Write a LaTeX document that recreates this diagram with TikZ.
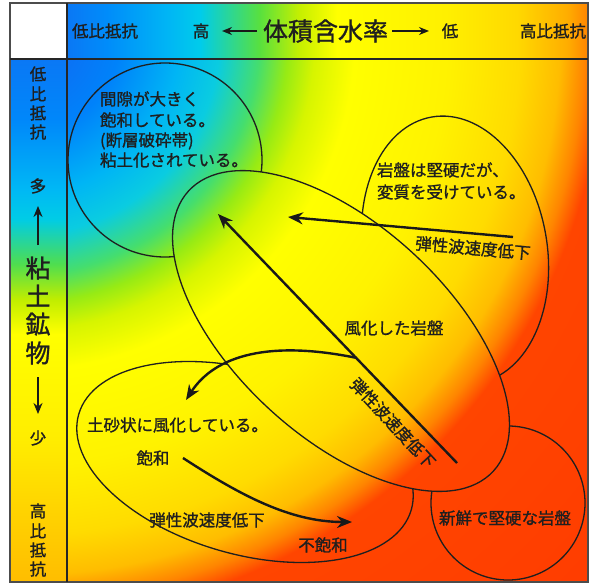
\documentclass[tikz,border=0pt]{standalone}
\usepackage{fontspec}
\setmainfont[FakeBold=1.2]{Noto Sans CJK JP}
\usetikzlibrary{arrows.meta}
\pgfdeclareradialshading{mainshade}{\pgfpoint{0bp}{0bp}}{%
rgb(0bp)=(0.04,0.45,0.96);
rgb(55bp)=(0.04,0.45,0.96);
rgb(100bp)=(0,0.51,0.98);
rgb(160bp)=(0,0.71,0.96);
rgb(200bp)=(0.04,0.80,0.88);
rgb(240bp)=(0.27,0.87,0.43);
rgb(268bp)=(0.59,0.92,0.08);
rgb(295bp)=(0.84,0.96,0);
rgb(335bp)=(1,1,0);
rgb(430bp)=(1,0.95,0);
rgb(500bp)=(1,0.86,0);
rgb(540bp)=(1,0.74,0);
rgb(565bp)=(1,0.52,0);
rgb(585bp)=(1,0.27,0);
rgb(900bp)=(1,0.22,0)}
\pgfdeclarehorizontalshading{hdrshade}{56bp}{%
rgb(0bp)=(0.04,0.47,0.96);
rgb(40bp)=(0,0.55,0.98);
rgb(100bp)=(0,0.71,0.96);
rgb(133bp)=(0,0.80,0.92);
rgb(193bp)=(0.35,0.88,0.24);
rgb(233bp)=(0.78,0.94,0);
rgb(270bp)=(1,1,0);
rgb(380bp)=(1,0.94,0);
rgb(450bp)=(1,0.85,0);
rgb(500bp)=(1,0.68,0);
rgb(521bp)=(1,0.52,0)}
\pgfdeclareverticalshading{colshade}{57bp}{%
rgb(0bp)=(1,0.74,0);
rgb(73bp)=(1,0.83,0);
rgb(143bp)=(1,0.93,0);
rgb(248bp)=(1,1,0);
rgb(283bp)=(0.75,0.93,0);
rgb(318bp)=(0.31,0.87,0.31);
rgb(363bp)=(0,0.80,0.90);
rgb(393bp)=(0,0.72,0.96);
rgb(463bp)=(0,0.53,0.98);
rgb(523bp)=(0.04,0.47,0.96)}
\begin{document}
\begin{tikzpicture}[x=1bp,y=-1bp,
  bg/.style={inner sep=0,outer sep=0},
  outline/.style={draw=black!88,line width=1.3bp},
  bigarrow/.style={draw=black!90,line width=2.4bp,-{Stealth[length=15bp,width=12bp]}},
  hdrarrow/.style={draw=black!90,line width=1.8bp,-{Stealth[length=10bp,width=8bp]}},
  colarrow/.style={draw=black!90,line width=2.2bp,-{Stealth[length=11bp,width=9bp]}},
  jp/.style={inner sep=0,outer sep=0,text height=14.5bp,text depth=2bp,
    font=\fontsize{16.5bp}{20bp}\selectfont,text=black!88},
  jpbig/.style={inner sep=0,outer sep=0,text height=22bp,text depth=3bp,
    font=\fontsize{25bp}{30bp}\selectfont,text=black!88}]
\useasboundingbox (0,0) rectangle (591,585);
\fill[white] (0,0) rectangle (591,585);
% backgrounds
\node[bg,anchor=north west] (hdrbg) at (67,3) {\pgfuseshading{hdrshade}};
\node[bg,anchor=north west] (colbg) at (10,59) {\pgfuseshading{colshade}};
\begin{scope}
  \clip (67,59) rectangle (588,582);
  \node[bg] (mainbg) at (20,35) {\pgfuseshading{mainshade}};
  % shapes below the big ellipse
  \draw[outline] (165,160) circle[radius=97];
  \draw[outline,rotate around={-80:(455,250)}] (455,250) ellipse[x radius=135,y radius=92];
  \draw[outline,rotate around={-16:(245,462)}] (245,462) ellipse[x radius=173,y radius=92];
  \draw[outline] (508,503) circle[radius=77];
  % big ellipse on top
  \begin{scope}
    \clip[rotate around={-42.6:(341,331)}] (341,331) ellipse[x radius=207,y radius=106];
    \node[bg] (mainbg2) at (20,35) {\pgfuseshading{mainshade}};
  \end{scope}
  \draw[outline,rotate around={-42.6:(341,331)}] (341,331) ellipse[x radius=207,y radius=106];
\end{scope}
% frame
\draw[black!70,line width=1.5bp] (10,3) rectangle (588,582);
\draw[black!85,line width=1.3bp] (67,3) -- (67,582) (10,59) -- (588,59);
% arrows in the main area
\coordinate (a1s) at (457,463);
\coordinate (a1e) at (218,214);
\coordinate (a2s) at (513,237);
\coordinate (a2e) at (288,217);
\coordinate (a3s) at (357,358);
\coordinate (a3e) at (186,400);
\coordinate (a4s) at (183,458);
\coordinate (a4e) at (352,522);
\draw[bigarrow] (a1s) -- (a1e);
\draw[bigarrow] (a2s) -- (a2e);
\draw[bigarrow] (a3s) .. controls (270,340) and (215,355) .. (a3e);
\draw[bigarrow] (a4s) .. controls (240,495) and (290,522) .. (a4e);
% header
\node[jp] (h1) at (105,31) {低比抵抗};
\node[jp] (h2) at (201,31) {高};
\node[jpbig] (h3) at (325.5,31) {体積含水率};
\node[jp] (h4) at (450,31) {低};
\node[jp] (h5) at (553,31) {高比抵抗};
\coordinate (ha1s) at (257,31);
\coordinate (ha1e) at (222,31);
\coordinate (ha2s) at (392,31);
\coordinate (ha2e) at (429,31);
\draw[hdrarrow] (ha1s) -- (ha1e);
\draw[hdrarrow] (ha2s) -- (ha2e);
% left column
\foreach \c/\y [count=\i] in {低/74,比/94,抵/113,抗/132,多/186,少/438,高/511,比/531,抵/550,抗/569}
  \node[jp] (lc\i) at (38,\y) {\c};
\foreach \c/\y [count=\i] in {粘/268,土/296,鉱/324,物/353}
  \node[jpbig] (lb\i) at (38,\y) {\c};
\coordinate (ca1s) at (38,245);
\coordinate (ca1e) at (38,206);
\coordinate (ca2s) at (38,377);
\coordinate (ca2e) at (38,414);
\draw[colarrow] (ca1s) -- (ca1e);
\draw[colarrow] (ca2s) -- (ca2e);
% texts in the main area
\node[jp,anchor=west] (t1) at (100,99) {間隙が大きく};
\node[jp,anchor=west] (t2) at (100,120) {飽和している。};
\node[jp,anchor=west] (t3) at (100,140) {(断層破砕帯)};
\node[jp,anchor=west] (t4) at (100,160) {粘土化されている。};
\node[jp,anchor=west] (t5) at (377,170) {岩盤は堅硬だが、};
\node[jp,anchor=west] (t6) at (377,192) {変質を受けている。};
\node[jp,rotate=-5] (t7) at (473,248) {弾性波速度低下};
\node[jp] (t8) at (394,328) {風化した岩盤};
\node[jp,rotate=-47] (t9) at (393,423) {弾性波速度低下};
\node[jp,anchor=west] (t10) at (87,425) {土砂状に風化している。};
\node[jp] (t11) at (153,458) {飽和};
\node[jp] (t12) at (207,520) {弾性波速度低下};
\node[jp] (t13) at (323,545) {不飽和};
\node[jp] (t14) at (505,518) {新鮮で堅硬な岩盤};
\end{tikzpicture}
\end{document}
